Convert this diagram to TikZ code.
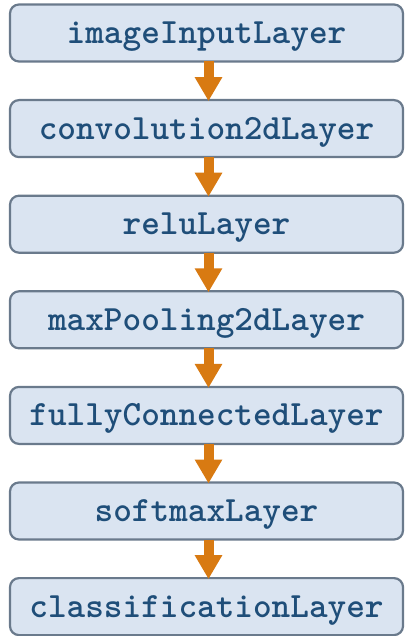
\documentclass[tikz,border=0pt]{standalone}
\usepackage{fontspec}
\usetikzlibrary{arrows.meta}
\definecolor{layerfill}{HTML}{DAE4F1}
\definecolor{layerline}{HTML}{6A7A8C}
\definecolor{layertext}{HTML}{1F4E79}
\definecolor{flow}{HTML}{D87A12}
\tikzset{
  layerbox/.style={draw=layerline, line width=2.2pt, fill=layerfill, rounded corners=9pt,
    minimum width=393pt, minimum height=57pt, inner sep=0pt, outer sep=0pt,
    text height=21pt, text depth=0pt,
    font=\ttfamily\bfseries\fontsize{35.5}{37}\selectfont, text=layertext},
  flowarrow/.style={draw=flow, line width=10pt,
    -{Triangle[width=26pt,length=24pt,fill=flow]}, shorten >=-1pt}
}
\begin{document}
\begin{tikzpicture}[x=1pt,y=-1pt]
  \useasboundingbox (0,0) rectangle (406,636);
  \node[layerbox] (l1) at (206.5,33)    {imageInputLayer};
  \node[layerbox] (l2) at (206.5,128.6) {convolution2dLayer};
  \node[layerbox] (l3) at (206.5,224.2) {reluLayer};
  \node[layerbox] (l4) at (206.5,319.8) {maxPooling2dLayer};
  \node[layerbox] (l5) at (206.5,415.4) {fullyConnectedLayer};
  \node[layerbox] (l6) at (206.5,511)   {softmaxLayer};
  \node[layerbox] (l7) at (206.5,606.6) {classificationLayer};
  \foreach \a/\b in {l1/l2,l2/l3,l3/l4,l4/l5,l5/l6,l6/l7}
    \draw[flowarrow] ([xshift=2pt]\a.south) -- ([xshift=2pt]\b.north);
\end{tikzpicture}
\end{document}
